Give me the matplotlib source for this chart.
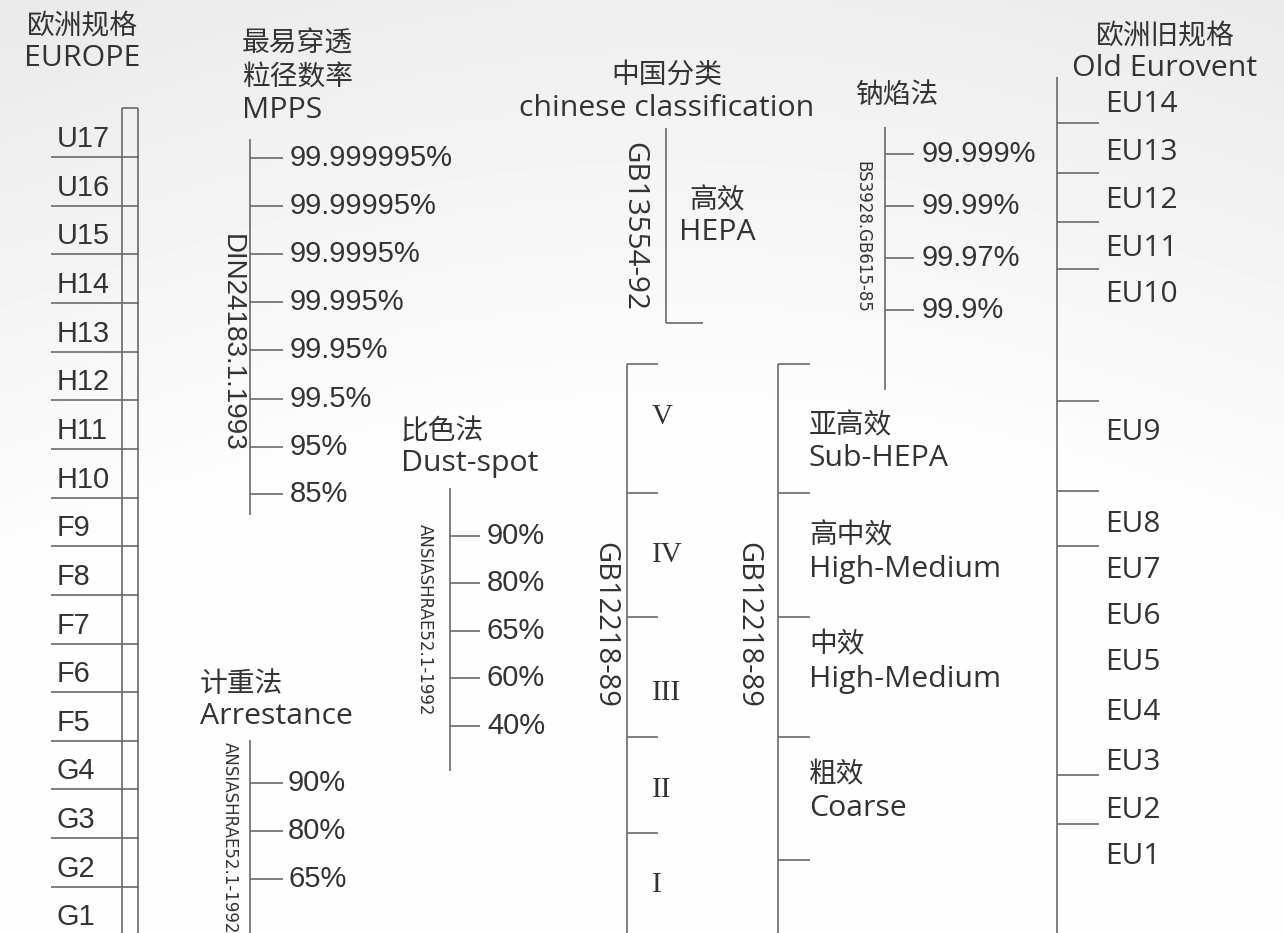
import numpy as np
import matplotlib
matplotlib.use("Agg")
import matplotlib.pyplot as plt
from matplotlib import font_manager

plt.rcParams['font.family'] = ['Open Sans', 'Noto Sans CJK SC', 'DejaVu Sans']

# ---- data (labels of each classification column) ----
europe_grades = ['U17', 'U16', 'U15', 'H14', 'H13', 'H12', 'H11', 'H10',
                 'F9', 'F8', 'F7', 'F6', 'F5', 'G4', 'G3', 'G2', 'G1']
mpps_values = ['99.999995%', '99.99995%', '99.9995%', '99.995%',
               '99.95%', '99.5%', '95%', '85%']
arrestance_values = ['90%', '80%', '65%']
dustspot_values = ['90%', '80%', '65%', '60%', '40%']
gb12218_levels = ['V', 'IV', 'III', 'II', 'I']
gb12218_classes = [('亚高效', 'Sub-HEPA'), ('高中效', 'High-Medium'),
                   ('中效', 'High-Medium'), ('粗效', 'Coarse')]
sodium_values = ['99.999%', '99.99%', '99.97%', '99.9%']
eurovent_grades = ['EU14', 'EU13', 'EU12', 'EU11', 'EU10', 'EU9', 'EU8',
                   'EU7', 'EU6', 'EU5', 'EU4', 'EU3', 'EU2', 'EU1']

# ---- layout (pixel coordinates, y down) ----
W, H = 1284, 933
row0, row_h = 157, 48.65
europe_lines = [row0 + row_h * i for i in range(len(europe_grades) - 1)]
mpps_ticks = [158, 206, 254, 302, 350, 399, 447, 494]
arrest_ticks = [783, 831, 879]
dust_ticks = [536, 583, 631, 678, 726]
gb_left_ticks = [493, 617, 737, 833]
gb_left_text_y = [417, 555, 693, 790, 885]
gb_right_ticks = [493, 617, 737, 860]
gb_right_text_y = [(426, 459), (536, 569), (645, 680), (775, 808)]
sodium_ticks = [154, 206, 258, 310]
eu_ticks = [123, 173, 222, 269, 401, 491, 546, 775, 824]
eu_text_y = [104, 153, 201, 248, 295, 433, 525, 570, 617, 662, 712, 763, 810, 857]

LC = '#6a6a6a'
TC = '#333333'
LW = 1.2
ZH = 20      # size of Chinese title lines
EN = 21.8    # size of Latin title lines
NUM = 21     # size of percentage labels

names = {f.name for f in font_manager.fontManager.ttflist}
narrow = 'Liberation Sans Narrow' if 'Liberation Sans Narrow' in names else 'DejaVu Sans'
narrow_scale = 1.0 if narrow == 'Liberation Sans Narrow' else 0.8
arial = ['Liberation Sans', 'DejaVu Sans']
serif = ['Liberation Serif', 'DejaVu Serif']
sans = ['Open Sans', 'Noto Sans CJK SC', 'DejaVu Sans']

fig = plt.figure(figsize=(W / 100, H / 100), dpi=100)
ax = fig.add_axes([0, 0, 1, 1])
ax.set_xlim(0, W)
ax.set_ylim(H, 0)
ax.axis('off')

# soft grey background fading to white
yy, xx = np.mgrid[0:1:200j, 0:1:200j]
bg = 0.915 + 0.08 * np.clip(yy * 1.6 + 0.25 * np.sin(xx * 3), 0, 1)
ax.imshow(bg, cmap='gray', vmin=0, vmax=1, extent=[0, W, H, 0],
          aspect='auto', zorder=0, interpolation='bicubic')


def vline(x, y0, y1):
    ax.plot([x, x], [y0, y1], color=LC, lw=LW, solid_capstyle='butt', zorder=2)


def hline(y, x0, x1):
    ax.plot([x0, x1], [y, y], color=LC, lw=LW, solid_capstyle='butt', zorder=2)


def txt(x, y, s, size=20, ha='left', family=None, **kw):
    kw.setdefault('va', 'center')
    ax.text(x, y, s, fontsize=size, ha=ha, color=TC,
            family=family if family else sans, zorder=3, **kw)


# ---- Europe column ----
txt(82, 27, '欧洲规格', size=ZH, ha='center')
txt(82, 58, 'EUROPE', size=EN, ha='center')
vline(122, 108, H)
vline(138, 108, H)
hline(108, 122, 138)
for y in europe_lines:
    hline(y, 51, 139)
for i, g in enumerate(europe_grades):
    txt(57, row0 + row_h * i - 18, g, size=20.8, family=arial)

# ---- MPPS ----
txt(242, 45, '最易穿透', size=ZH)
txt(242, 78, '粒径数率', size=ZH)
txt(242, 111, 'MPPS', size=EN)
vline(250, 139, 515)
for y, v in zip(mpps_ticks, mpps_values):
    hline(y, 250, 283)
    txt(290, y, v, size=NUM, family=arial)
txt(232, 343, 'DIN24183.1.1993', size=20, ha='center', rotation=-90, family=arial)

# ---- Arrestance ----
txt(200, 685, '计重法', size=ZH)
txt(200, 717, 'Arrestance', size=EN)
vline(250, 740, H)
for y, v in zip(arrest_ticks, arrestance_values):
    hline(y, 250, 283)
    txt(288, y, v, size=NUM, family=arial)
txt(230, 838, 'ANSIASHRAE52.1-1992', size=15 * narrow_scale, ha='center',
    rotation=-90, family=narrow)

# ---- Dust-spot ----
txt(401, 433, '比色法', size=ZH)
txt(401, 464, 'Dust-spot', size=EN)
vline(450, 488, 771)
for y, v in zip(dust_ticks, dustspot_values):
    hline(y, 450, 480)
    txt(487, y, v, size=NUM, family=arial)
txt(425, 620, 'ANSIASHRAE52.1-1992', size=15 * narrow_scale, ha='center',
    rotation=-90, family=narrow)

# ---- Chinese classification ----
txt(667, 76, '中国分类', size=ZH, ha='center')
txt(667, 108, 'chinese classification', size=EN, ha='center')
vline(666, 128, 323)
hline(323, 666, 703)
txt(634, 226, 'GB13554-92', size=21.3, ha='center', rotation=-90)
txt(717, 201, '高效', size=ZH, ha='center')
txt(717, 233, 'HEPA', size=EN, ha='center')

vline(627, 364, H)
hline(364, 627, 658)
for y in gb_left_ticks:
    hline(y, 627, 658)
for y, s in zip(gb_left_text_y, gb12218_levels):
    txt(652, y, s, size=21, family=serif)
txt(605, 625, 'GB12218-89', size=21, ha='center', rotation=-90)

vline(778, 364, H)
hline(364, 778, 810)
for y in gb_right_ticks:
    hline(y, 778, 810)
for (y1, y2), (zh, en) in zip(gb_right_text_y, gb12218_classes):
    txt(809, y1, zh, size=ZH)
    txt(809, y2, en, size=EN)
txt(748, 625, 'GB12218-89', size=21, ha='center', rotation=-90)

# ---- Sodium flame ----
txt(855, 96, '钠焰法', size=ZH)
vline(885, 127, 390)
for y, v in zip(sodium_ticks, sodium_values):
    hline(y, 885, 914)
    txt(922, y, v, size=NUM, family=arial)
txt(862, 237, 'BS3928.GB615-85', size=15 * narrow_scale, ha='center',
    rotation=-90, family=narrow)

# ---- Old Eurovent ----
txt(1165, 37, '欧洲旧规格', size=ZH, ha='center')
txt(1165, 68, 'Old Eurovent', size=EN, ha='center')
vline(1057, 77, H)
for y in eu_ticks:
    hline(y, 1057, 1099)
for y, g in zip(eu_text_y, eurovent_grades):
    txt(1105, y, g, size=21.5)

fig.savefig('out.png', dpi=100)
